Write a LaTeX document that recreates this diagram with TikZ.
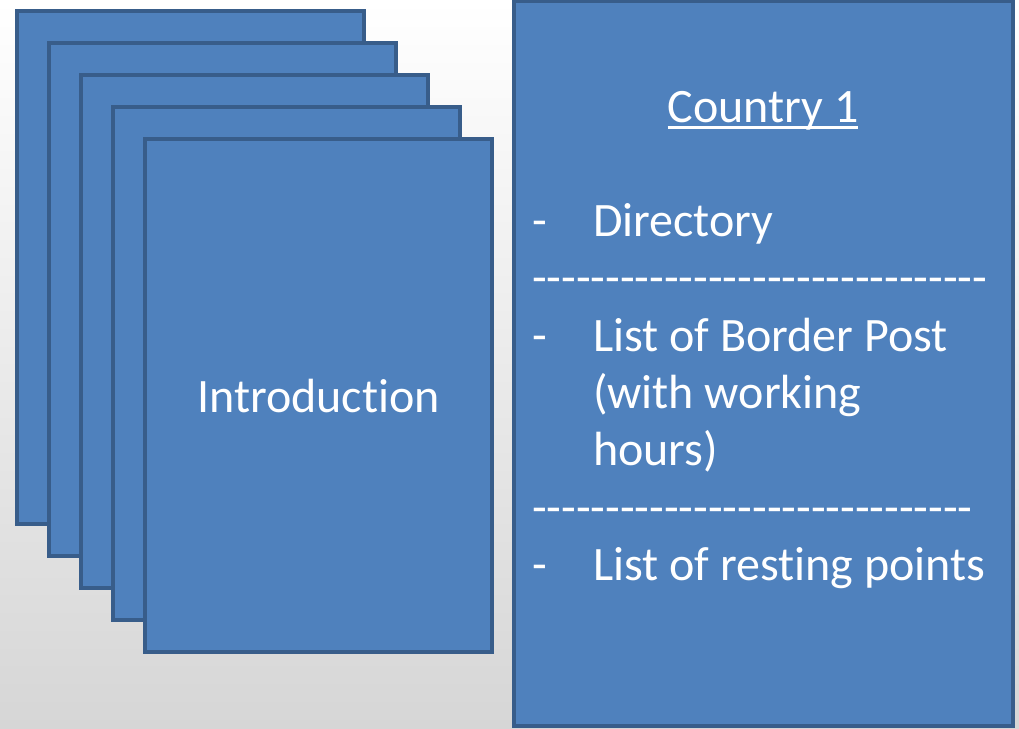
\documentclass[tikz,border=0pt]{standalone}
\usepackage{fontspec}
\setmainfont{Carlito}[Ligatures=NoCommon]
\definecolor{fillblue}{HTML}{4F81BD}
\definecolor{edgeblue}{HTML}{385D8A}
\definecolor{bggray}{HTML}{D6D6D6}
\newcommand\dashrow[1]{\foreach\k in {1,...,#1}{-}}
\begin{document}
\begin{tikzpicture}[x=1pt,y=-1pt,
  card/.style={draw=edgeblue, fill=fillblue, line width=4.5pt, minimum width=347pt, minimum height=513pt, inner sep=0pt, outer sep=0pt},
  txt/.style={text=white, font=\fontsize{48}{57}\selectfont, inner sep=0pt, outer sep=0pt}]
\useasboundingbox (0,0) rectangle (1019,728);
\shade[top color=white, bottom color=bggray] (0,0) rectangle (1019,728);
\node[card] (c1) at (190.5,267.5) {};
\node[card] (c2) at (222.5,299.5) {};
\node[card] (c3) at (254.5,331.5) {};
\node[card] (c4) at (286.5,363.5) {};
\node[card] (c5) at (318.5,395.5) {};
\node[txt, anchor=base] (intro) at (318.5,412) {Introduction};
\draw[draw=edgeblue, fill=fillblue, line width=4.5pt] (514,1) rectangle (1013,726);
\node[txt, anchor=base] (country) at (763,122) {Country 1};
\draw[white, line width=2.4pt] ([yshift=-5.5pt]country.base west) -- ([yshift=-5.5pt]country.base east);
\node[txt, anchor=base west] (b1) at (532,236.6) {-};
\node[txt, anchor=base west] (t1) at (593,236.6) {Directory};
\node[txt, anchor=base west] (d1) at (532,293.9) {\dashrow{31}};
\node[txt, anchor=base west] (b2) at (532,351.2) {-};
\node[txt, anchor=base west] (t2a) at (593,351.2) {List of Border Post};
\node[txt, anchor=base west] (t2b) at (593,408.5) {(with working};
\node[txt, anchor=base west] (t2c) at (593,465.8) {hours)};
\node[txt, anchor=base west] (d2) at (532,523.1) {\dashrow{30}};
\node[txt, anchor=base west] (b3) at (532,580.4) {-};
\node[txt, anchor=base west] (t3) at (593,580.4) {List of resting points};
\end{tikzpicture}
\end{document}
